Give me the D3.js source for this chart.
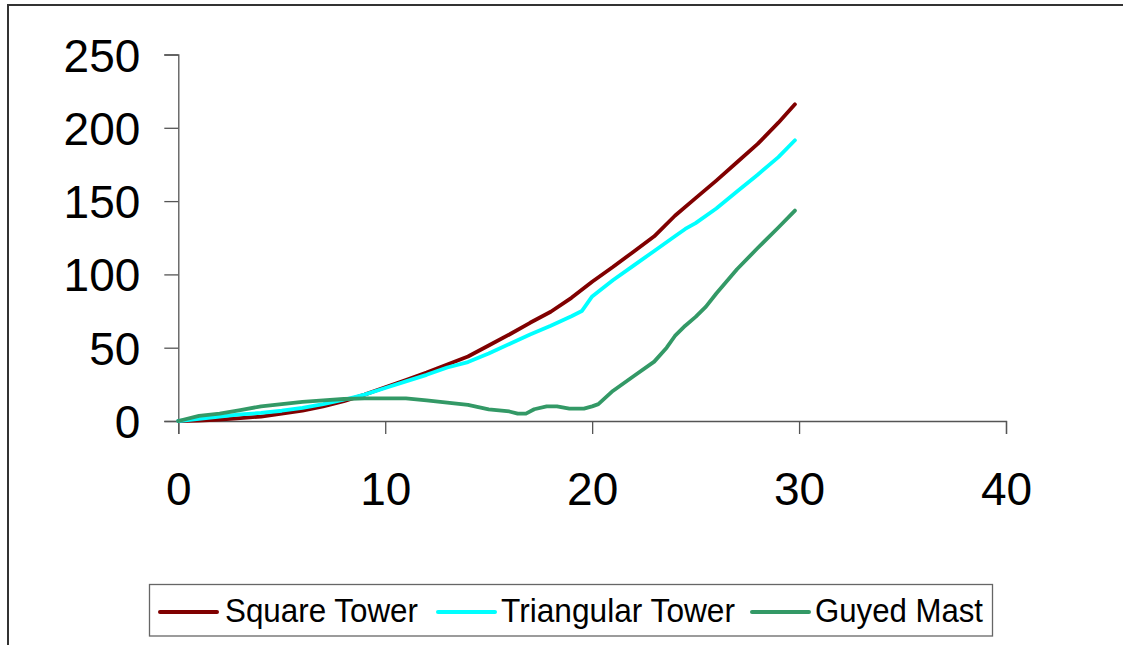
<!DOCTYPE html>
<html>
<head>
<meta charset="utf-8">
<script src="https://cdn.jsdelivr.net/npm/d3@7"></script>
<style>
  html, body { margin: 0; padding: 0; background: #fff; }
  svg { display: block; font-family: "Liberation Sans", Arial, sans-serif; }
</style>
</head>
<body>
<svg id="chart" width="1123" height="645"></svg>
<script>
// ---- data ----
const seriesNames = ["Square Tower", "Triangular Tower", "Guyed Mast"];
const seriesColors = ["#800000", "#00FFFF", "#339966"];

const squareX = [0,1,2,3,4,5,6,7,8,9,10,11,12,13,14,15,16,17,18,19,20,21,22,23,24,25,26,27,28,29,29.8];
const squareY = [0,0.3,1,2,3,5,7,10,13.5,18,23,28,33,38.5,44,51.5,59,67,74.5,84,95,105,115.5,126,140,152,164,176.5,189,203.5,216];

const triX = [0,1,2,3,4,5,6,7,8,9,10,11,12,13,14,15,16,17,18,19,19.5,20,21,22,23,24,24.5,25,26,27,28,29,29.8];
const triY = [0,1.5,3,4.5,5.5,7,9,11.5,14.5,18,22.5,27,31.5,36.5,40.2,46,52.5,59,65,71.5,75,85,96,106,116,126,131,135,145,156.5,168,180,191.5];

const guyX = [0,1,2,3,4,5,6,7,8,9,10,11,12,13,14,15,16,16.4,16.8,17.2,17.8,18.3,18.9,19.6,20,20.3,21,22,23,23.6,24,24.5,25,25.5,26,27,28,29,29.8];
const guyY = [0,3.5,5,7.5,10,11.5,13,14,15,15.5,15.5,15.5,14,12.5,11,8,6.5,5,5,8,10,10,8.5,8.5,10,11.5,20.5,30.5,40.5,50,58,65,71,78,87,103.5,118,132,143.5];

const xTicks = [0,10,20,30,40];
const yTicks = [0,50,100,150,200,250];

// ---- layout ----
const svg = d3.select("#chart");
const x = d3.scaleLinear().domain([0, 40]).range([178.3, 1006]);
const y = d3.scaleLinear().domain([0, 250]).range([421, 54.5]);

// outer frame (extends beyond the viewport on right and bottom)
svg.append("rect")
  .attr("x", 8).attr("y", 5).attr("width", 1130).attr("height", 660)
  .attr("fill", "none").attr("stroke", "#333").attr("stroke-width", 2);

// y axis
const yAxis = svg.append("g").attr("transform", `translate(${x(0)},0)`)
  .call(d3.axisLeft(y).tickValues(yTicks).tickSize(14).tickPadding(24).tickFormat(d3.format("d")));
yAxis.select(".domain").attr("stroke", "#555").attr("stroke-width", 1.3);
yAxis.selectAll(".tick line").attr("stroke", "#555").attr("stroke-width", 1.3);
yAxis.selectAll(".tick text").attr("font-size", 46).attr("fill", "#000")
  .attr("font-family", "Liberation Sans, Arial, sans-serif").attr("dy", "0.36em");

// x axis
const xAxis = svg.append("g").attr("transform", `translate(0,${y(0)})`)
  .call(d3.axisBottom(x).tickValues(xTicks).tickSize(13).tickPadding(38).tickFormat(d3.format("d")));
xAxis.select(".domain").attr("stroke", "#555").attr("stroke-width", 1.3);
xAxis.selectAll(".tick line").attr("stroke", "#555").attr("stroke-width", 1.3);
xAxis.selectAll(".tick text").attr("font-size", 46).attr("fill", "#000")
  .attr("font-family", "Liberation Sans, Arial, sans-serif").attr("dy", "0.71em");

// lines
const series = [
  { xs: squareX, ys: squareY },
  { xs: triX, ys: triY },
  { xs: guyX, ys: guyY }
];
const line = d3.line().x(d => x(d[0])).y(d => y(d[1]));
series.forEach((s, i) => {
  const pts = s.xs.map((v, j) => [v, s.ys[j]]);
  svg.append("path").datum(pts)
    .attr("d", line)
    .attr("fill", "none")
    .attr("stroke", seriesColors[i])
    .attr("stroke-width", 3.8)
    .attr("stroke-linejoin", "round")
    .attr("stroke-linecap", "round");
});

// legend
svg.append("rect")
  .attr("x", 149.5).attr("y", 584.5).attr("width", 843).attr("height", 51.5)
  .attr("fill", "#fff").attr("stroke", "#666").attr("stroke-width", 1.3);
const legendLineX = [160, 438, 752];
const legendTextX = [225, 501, 815];
const legendTextW = [193, 234, 168];
seriesNames.forEach((name, i) => {
  svg.append("line")
    .attr("x1", legendLineX[i]).attr("x2", legendLineX[i] + 57)
    .attr("y1", 612).attr("y2", 612)
    .attr("stroke", seriesColors[i]).attr("stroke-width", 4).attr("stroke-linecap", "round");
  svg.append("text")
    .attr("x", legendTextX[i]).attr("y", 622)
    .attr("font-size", 33).attr("fill", "#000")
    .attr("textLength", legendTextW[i]).attr("lengthAdjust", "spacingAndGlyphs")
    .text(name);
});
</script>
</body>
</html>
